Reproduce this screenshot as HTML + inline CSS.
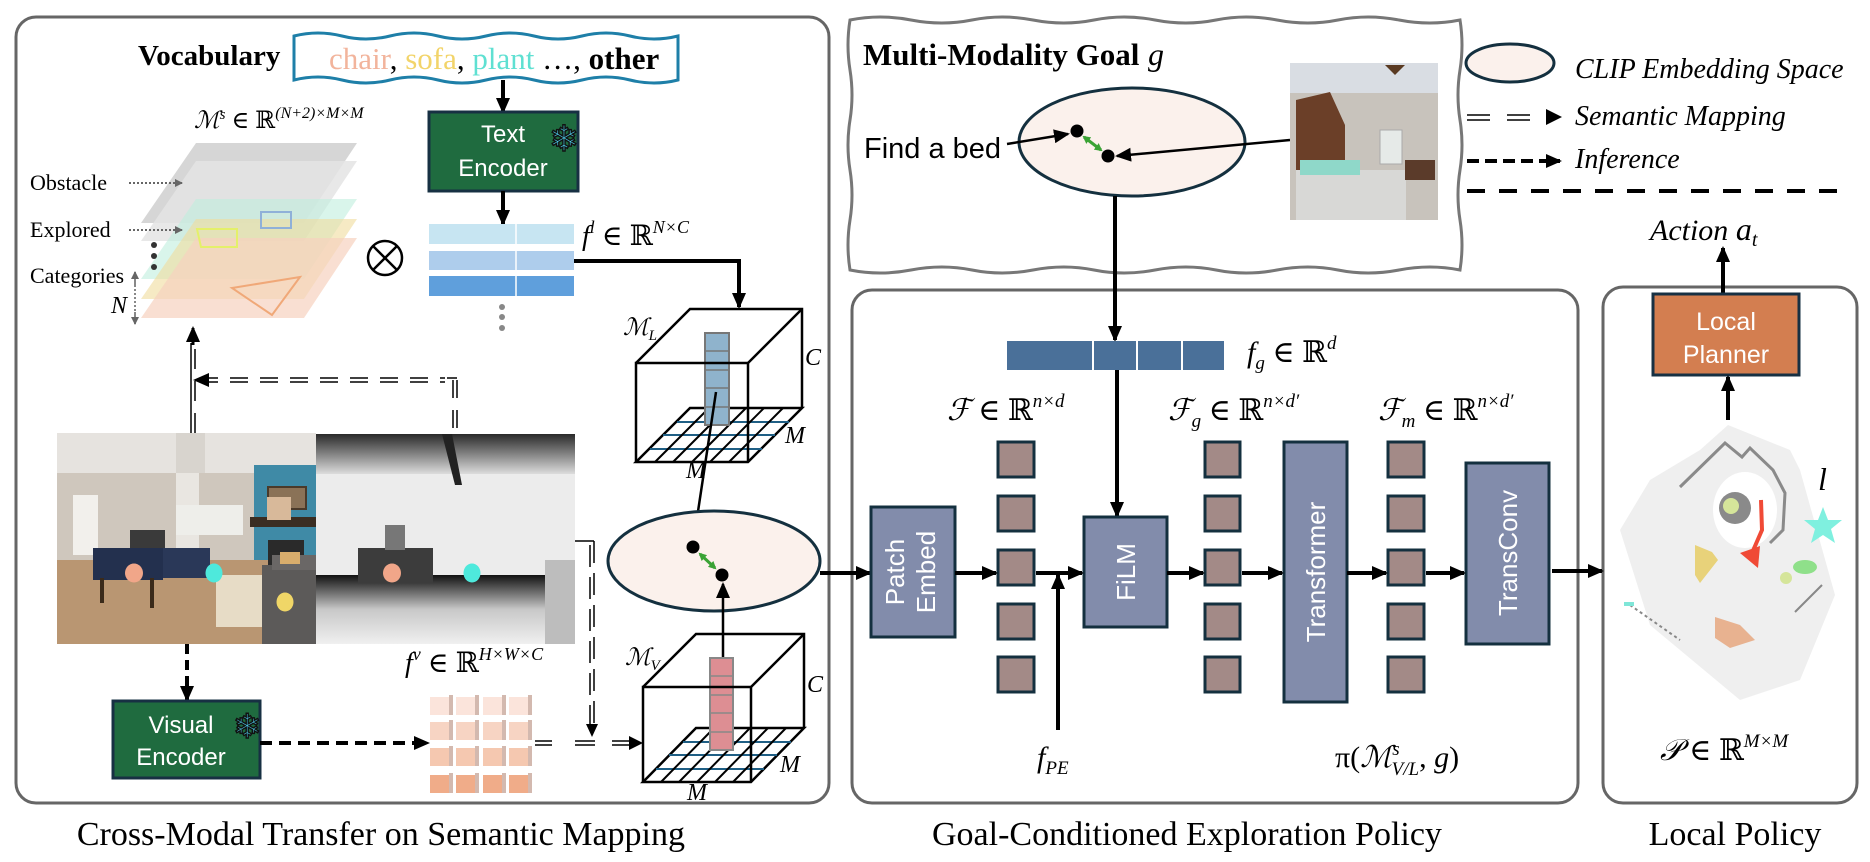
<!DOCTYPE html>
<html><head><meta charset="utf-8"><style>
html,body{margin:0;padding:0;background:#fff;}
svg{display:block;}
.serif{font-family:"Liberation Serif",serif;}
.sans{font-family:"Liberation Sans","DejaVu Sans",sans-serif;}
.it{font-family:"Liberation Serif","DejaVu Serif",serif;font-style:italic;}
</style></head><body>
<svg width="1870" height="862" viewBox="0 0 1870 862" xmlns="http://www.w3.org/2000/svg">
<defs>
<marker id="ah" markerWidth="10" markerHeight="10" refX="8" refY="5" orient="auto" markerUnits="userSpaceOnUse"><path d="M0,0 L10,5 L0,10 z" fill="#000"/></marker>
<marker id="ahb" markerWidth="16" markerHeight="14" refX="14" refY="7" orient="auto" markerUnits="userSpaceOnUse"><path d="M0,0 L16,7 L0,14 z" fill="#000"/></marker>
<marker id="ahg" markerWidth="8" markerHeight="8" refX="6" refY="4" orient="auto-start-reverse" markerUnits="userSpaceOnUse"><path d="M0,0 L8,4 L0,8 z" fill="#3aa335"/></marker>
<marker id="ahs" markerWidth="8" markerHeight="8" refX="7" refY="4" orient="auto" markerUnits="userSpaceOnUse"><path d="M0,0 L8,4 L0,8 z" fill="#666"/></marker>
</defs>

<rect x="16" y="17" width="813" height="786" rx="20" fill="none" stroke="#666" stroke-width="3"/>
<rect x="852" y="290" width="726" height="513" rx="20" fill="none" stroke="#666" stroke-width="3"/>
<rect x="1603" y="287" width="254" height="516" rx="20" fill="none" stroke="#666" stroke-width="3"/>

<path d="M850,20 q30,-6 61,0 t61,0 t61,0 t61,0 t61,0 t61,0 t61,0 t61,0 t61,0 t61,0 q4,25 0,50 t0,50 t0,50 t0,50 t0,50 q-30,-6 -61,0 t-61,0 t-61,0 t-61,0 t-61,0 t-61,0 t-61,0 t-61,0 t-61,0 t-61,0 q-4,-25 0,-50 t0,-50 t0,-50 t0,-50 t0,-50 z" fill="#fff" stroke="#777" stroke-width="3"/>

<text x="685" y="845" text-anchor="end" class="serif" font-size="34">Cross-Modal Transfer on Semantic Mapping</text>
<text x="932" y="845" class="serif" font-size="34">Goal-Conditioned Exploration Policy</text>
<text x="1735" y="845" text-anchor="middle" class="serif" font-size="34">Local Policy</text>

<text x="138" y="65" class="serif" font-weight="bold" font-size="29">Vocabulary</text>
<path d="M294,36 q24,-6 48,0 t48,0 t48,0 t48,0 t48,0 t48,0 t48,0 t48,0 L678,80 q-24,6 -48,0 t-48,0 t-48,0 t-48,0 t-48,0 t-48,0 t-48,0 t-48,0 z" fill="#fff" stroke="#1e7fa8" stroke-width="3"/>
<text x="329" y="69" class="serif" font-size="31"><tspan fill="#f2b49c">chair</tspan>, <tspan fill="#f2d46a">sofa</tspan>, <tspan fill="#5fe0d2">plant</tspan> …, <tspan font-weight="bold">other</tspan></text>
<line x1="503" y1="80" x2="503" y2="112" stroke="#000" stroke-width="4" marker-end="url(#ahb)"/>

<rect x="429" y="112" width="149" height="79" fill="#1f6b3f" stroke="#173043" stroke-width="3"/>
<text x="503" y="142" text-anchor="middle" class="sans" font-size="24" fill="#fff">Text</text>
<text x="503" y="176" text-anchor="middle" class="sans" font-size="24" fill="#fff">Encoder</text>
<text x="564" y="151" text-anchor="middle" font-family="DejaVu Sans,sans-serif" font-size="36" fill="#4fd0f0" stroke="#111" stroke-width="1.5">❄</text>
<line x1="503" y1="191" x2="503" y2="224" stroke="#000" stroke-width="4" marker-end="url(#ahb)"/>

<rect x="429" y="224" width="145" height="20" fill="#c7e5f2"/>
<rect x="429" y="251" width="145" height="19" fill="#aecdec"/>
<rect x="429" y="276" width="145" height="20" fill="#5f9fdc"/>
<line x1="516" y1="222" x2="516" y2="298" stroke="#fff" stroke-width="1.5"/>
<circle cx="502" cy="307" r="3" fill="#888"/><circle cx="502" cy="317" r="3" fill="#888"/><circle cx="502" cy="328" r="3" fill="#888"/>
<text x="582" y="245" class="it" font-size="28">f<tspan font-size="18" dy="-12">l</tspan><tspan dy="12" font-style="normal"> ∈ ℝ</tspan><tspan font-size="18" dy="-12">N×C</tspan></text>
<polyline points="574,261 739,261 739,307" fill="none" stroke="#000" stroke-width="4" marker-end="url(#ahb)"/>

<g>
<polygon points="196,143 357,143 304,223 141,223" fill="#d4d4d4" opacity="0.95"/>
<polygon points="196,161 357,161 304,241 141,241" fill="#e4e4e4" opacity="0.85"/>
<polygon points="196,199 357,199 304,279 141,279" fill="#bfeedd" opacity="0.6"/>
<polygon points="196,219 357,219 304,299 141,299" fill="#f0dc9c" opacity="0.6"/>
<polygon points="196,238 357,238 304,318 141,318" fill="#f6d2bf" opacity="0.7"/>
<path d="M261,212 h30 v16 h-30 z" fill="none" stroke="#8fb0d8" stroke-width="2"/>
<path d="M197,229 h40 v18 h-36 z" fill="none" stroke="#e4f06a" stroke-width="2"/>
<polygon points="232,288 300,277 272,315" fill="none" stroke="#f0a878" stroke-width="2"/>
</g>
<text x="194" y="128" class="it" font-size="24">ℳ<tspan font-size="15" dy="-9">s</tspan><tspan dy="9" font-style="normal"> ∈ ℝ</tspan><tspan font-size="16" dy="-10">(N+2)×M×M</tspan></text>
<text x="30" y="190" class="serif" font-size="22">Obstacle</text>
<text x="30" y="237" class="serif" font-size="22">Explored</text>
<text x="30" y="283" class="serif" font-size="22">Categories</text>
<text x="111" y="313" class="it" font-size="24">N</text>
<line x1="129" y1="183" x2="182" y2="183" stroke="#666" stroke-width="2" stroke-dasharray="2,2" marker-end="url(#ahs)"/>
<line x1="129" y1="230" x2="182" y2="230" stroke="#666" stroke-width="2" stroke-dasharray="2,2" marker-end="url(#ahs)"/>
<line x1="135" y1="285" x2="135" y2="272" stroke="#888" stroke-width="2" marker-end="url(#ahs)"/>
<line x1="135" y1="285" x2="135" y2="312" stroke="#888" stroke-width="2" stroke-dasharray="2,2"/>
<line x1="135" y1="312" x2="135" y2="324" stroke="#888" stroke-width="2" marker-end="url(#ahs)"/>
<circle cx="154" cy="245" r="3" fill="#333"/><circle cx="154" cy="256" r="3" fill="#333"/><circle cx="154" cy="267" r="3" fill="#333"/>
<circle cx="385" cy="258" r="17" fill="none" stroke="#000" stroke-width="2.5"/>
<line x1="373" y1="246" x2="397" y2="270" stroke="#000" stroke-width="2.5"/><line x1="397" y1="246" x2="373" y2="270" stroke="#000" stroke-width="2.5"/>

<g stroke="#000" stroke-width="1.5" fill="none">
<line x1="191" y1="433" x2="191" y2="343"/><line x1="195" y1="433" x2="195" y2="343" stroke-dasharray="20,12"/>
<line x1="200" y1="378" x2="445" y2="378" stroke-dasharray="18,12"/><line x1="200" y1="382" x2="445" y2="382" stroke-dasharray="18,12"/>
<line x1="453" y1="380" x2="453" y2="433" stroke-dasharray="18,12"/><line x1="457" y1="380" x2="457" y2="433" stroke-dasharray="18,12"/>
<line x1="447" y1="378" x2="457" y2="378"/>
</g>
<path d="M193,380 l16,-7 v14 z" fill="#000"/>
<line x1="193" y1="345" x2="193" y2="328" stroke="#000" stroke-width="3" marker-end="url(#ahb)"/>

<g>
<rect x="57" y="433" width="259" height="211" fill="#cfc7bd"/>
<rect x="57" y="433" width="259" height="40" fill="#e6e3df"/>
<rect x="57" y="560" width="259" height="84" fill="#b99672"/>
<rect x="73" y="495" width="25" height="60" fill="#f2f0ec"/>
<rect x="176" y="455" width="23" height="110" fill="#e9e6e1"/>
<rect x="176" y="433" width="29" height="40" fill="#d8d4ce"/>
<rect x="176" y="505" width="67" height="30" fill="#eeeeea"/>
<rect x="254" y="465" width="62" height="95" fill="#3f8aa6"/>
<rect x="268" y="487" width="38" height="22" fill="#8a7257" stroke="#4a3a2a" stroke-width="2"/>
<rect x="250" y="517" width="66" height="10" fill="#3a2d22"/>
<rect x="268" y="540" width="36" height="25" fill="#2a2a2a"/>
<rect x="267" y="497" width="24" height="23" fill="#d8b99a"/>
<rect x="262" y="565" width="54" height="79" fill="#5c5a59"/>
<rect x="272" y="555" width="44" height="15" fill="#6a6766"/>
<rect x="280" y="552" width="20" height="12" fill="#d9ad6c"/>
<rect x="216" y="575" width="46" height="52" fill="#e7dcc6"/>
<rect x="150" y="548" width="60" height="30" fill="#2a3858"/>
<rect x="93" y="548" width="70" height="32" fill="#23304e"/>
<rect x="130" y="530" width="35" height="18" fill="#3a3a3a"/>
<rect x="100" y="578" width="4" height="25" fill="#3a2a1a"/><rect x="150" y="578" width="4" height="30" fill="#3a2a1a"/>
<ellipse cx="134" cy="573" rx="9" ry="9.5" fill="#f1a689"/>
<ellipse cx="214" cy="573" rx="8.5" ry="9.5" fill="#4ee9dc"/>
<ellipse cx="285" cy="602" rx="8.5" ry="9.5" fill="#f0d667"/>
</g>
<defs>
<linearGradient id="dtop" x1="0" y1="0" x2="0" y2="1"><stop offset="0" stop-color="#2a2a2a"/><stop offset="1" stop-color="#dcdcdc"/></linearGradient>
<linearGradient id="dbot" x1="0" y1="0" x2="0" y2="1"><stop offset="0" stop-color="#111"/><stop offset="0.5" stop-color="#c8c8c8"/><stop offset="1" stop-color="#f0f0f0"/></linearGradient>
</defs>
<g>
<rect x="316" y="434" width="259" height="210" fill="#ececec"/>
<rect x="316" y="434" width="259" height="40" fill="url(#dtop)"/>
<rect x="316" y="575" width="259" height="69" fill="url(#dbot)"/>
<polygon points="442,434 452,434 462,485 455,485" fill="#222"/>
<rect x="358" y="548" width="75" height="35" fill="#3c3c3c"/>
<rect x="385" y="525" width="20" height="25" fill="#777"/>
<rect x="545" y="560" width="30" height="84" fill="#bdbdbd"/>
<ellipse cx="392" cy="573" rx="9" ry="9.5" fill="#f1a689"/>
<ellipse cx="472" cy="573" rx="8.5" ry="9.5" fill="#4ee9dc"/>
</g>

<g stroke="#000" stroke-width="1.5" fill="none">
<line x1="575" y1="541" x2="594" y2="541"/>
<line x1="590" y1="545" x2="590" y2="725" stroke-dasharray="22,10"/><line x1="594" y1="541" x2="594" y2="725" stroke-dasharray="22,10"/>
<line x1="535" y1="741" x2="552" y2="741"/><line x1="535" y1="745" x2="552" y2="745"/>
<line x1="575" y1="741" x2="595" y2="741"/><line x1="575" y1="745" x2="595" y2="745"/>
<line x1="612" y1="741" x2="630" y2="741"/><line x1="612" y1="745" x2="630" y2="745"/>
</g>
<path d="M586,724 h12 l-6,13 z" fill="#000"/>
<path d="M629,736 l14,7 l-14,7 z" fill="#000"/>

<line x1="187" y1="644" x2="187" y2="700" stroke="#000" stroke-width="4" stroke-dasharray="10,6" marker-end="url(#ahb)"/>
<rect x="113" y="701" width="147" height="77" fill="#1f6b3f" stroke="#173043" stroke-width="3"/>
<text x="181" y="733" text-anchor="middle" class="sans" font-size="24" fill="#fff">Visual</text>
<text x="181" y="765" text-anchor="middle" class="sans" font-size="24" fill="#fff">Encoder</text>
<text x="247" y="738" text-anchor="middle" font-family="DejaVu Sans,sans-serif" font-size="34" fill="#4fd0f0" stroke="#111" stroke-width="1.5">❄</text>
<line x1="260" y1="743" x2="428" y2="743" stroke="#000" stroke-width="4" stroke-dasharray="12,7" marker-end="url(#ahb)"/>

<text x="405" y="672" class="it" font-size="28">f<tspan font-size="18" dy="-12">v</tspan><tspan dy="12" font-style="normal"> ∈ ℝ</tspan><tspan font-size="18" dy="-12">H×W×C</tspan></text>
<g>
<g fill="#fbe4db"><rect x="430" y="697" width="19" height="18"/><rect x="456" y="697" width="19" height="18"/><rect x="483" y="697" width="19" height="18"/><rect x="509" y="697" width="19" height="18"/></g>
<g fill="#f7d4c3"><rect x="430" y="722" width="19" height="18"/><rect x="456" y="722" width="19" height="18"/><rect x="483" y="722" width="19" height="18"/><rect x="509" y="722" width="19" height="18"/></g>
<g fill="#f5c8b0"><rect x="430" y="748" width="19" height="18"/><rect x="456" y="748" width="19" height="18"/><rect x="483" y="748" width="19" height="18"/><rect x="509" y="748" width="19" height="18"/></g>
<g fill="#f0ac89"><rect x="430" y="775" width="19" height="18"/><rect x="456" y="775" width="19" height="18"/><rect x="483" y="775" width="19" height="18"/><rect x="509" y="775" width="19" height="18"/></g>
<g fill="#c9a89c" opacity="0.8"><rect x="449" y="695" width="4" height="20"/><rect x="475" y="695" width="4" height="20"/><rect x="502" y="695" width="4" height="20"/><rect x="528" y="695" width="4" height="20"/>
<rect x="449" y="720" width="4" height="20"/><rect x="475" y="720" width="4" height="20"/><rect x="502" y="720" width="4" height="20"/><rect x="528" y="720" width="4" height="20"/>
<rect x="449" y="746" width="4" height="20"/><rect x="475" y="746" width="4" height="20"/><rect x="502" y="746" width="4" height="20"/><rect x="528" y="746" width="4" height="20"/>
<rect x="449" y="773" width="4" height="20"/><rect x="475" y="773" width="4" height="20"/><rect x="502" y="773" width="4" height="20"/><rect x="528" y="773" width="4" height="20"/></g>
</g>

<g stroke="#000" stroke-width="2.5" fill="none">
<polygon points="636,462 748,462 802,408 690,408"/>
<g stroke="#1f5f85" stroke-width="2"><line x1="650" y1="449" x2="762" y2="449"/><line x1="663" y1="435" x2="775" y2="435"/><line x1="677" y1="422" x2="789" y2="422"/></g>
<g stroke-width="2"><line x1="655" y1="462" x2="709" y2="408"/><line x1="673" y1="462" x2="727" y2="408"/><line x1="692" y1="462" x2="746" y2="408"/><line x1="710" y1="462" x2="764" y2="408"/><line x1="729" y1="462" x2="783" y2="408"/></g>
<rect x="705" y="333" width="24" height="92" fill="#8fb3cc" stroke="#777" stroke-width="2"/>
<g stroke="#777" stroke-width="1.5"><line x1="705" y1="351" x2="729" y2="351"/><line x1="705" y1="370" x2="729" y2="370"/><line x1="705" y1="388" x2="729" y2="388"/><line x1="705" y1="407" x2="729" y2="407"/></g>
<polyline points="636,462 636,363 748,363 748,462"/>
<polyline points="636,363 690,309 802,309 802,408"/>
<line x1="748" y1="363" x2="802" y2="309"/>
</g>
<text x="623" y="335" class="it" font-size="24">ℳ<tspan font-size="15" dy="5">L</tspan></text>
<text x="805" y="365" class="it" font-size="24">C</text>
<text x="785" y="443" class="it" font-size="24">M</text>
<text x="686" y="478" class="it" font-size="24">M</text>
<line x1="716" y1="392" x2="694" y2="538" stroke="#000" stroke-width="2.5" marker-end="url(#ahb)"/>

<ellipse cx="714" cy="561" rx="106" ry="50" fill="#fbf1ec" stroke="#14303f" stroke-width="3"/>
<circle cx="693" cy="547" r="6.5" fill="#000"/><circle cx="722" cy="575" r="6.5" fill="#000"/>
<line x1="700" y1="554" x2="715" y2="568" stroke="#3aa335" stroke-width="3" marker-start="url(#ahg)" marker-end="url(#ahg)"/>
<line x1="723" y1="658" x2="723" y2="584" stroke="#000" stroke-width="2.5" marker-end="url(#ahb)"/>

<g stroke="#000" stroke-width="2.5" fill="none">
<polygon points="643,782 751,782 804,728 696,728"/>
<g stroke="#1f5f85" stroke-width="2"><line x1="656" y1="769" x2="764" y2="769"/><line x1="669" y1="755" x2="777" y2="755"/><line x1="683" y1="742" x2="791" y2="742"/></g>
<g stroke-width="2"><line x1="661" y1="782" x2="714" y2="728"/><line x1="679" y1="782" x2="732" y2="728"/><line x1="697" y1="782" x2="750" y2="728"/><line x1="715" y1="782" x2="768" y2="728"/><line x1="733" y1="782" x2="786" y2="728"/></g>
<rect x="710" y="658" width="23" height="92" fill="#dd8e93" stroke="#888" stroke-width="2"/>
<g stroke="#888" stroke-width="1.5"><line x1="710" y1="676" x2="733" y2="676"/><line x1="710" y1="695" x2="733" y2="695"/><line x1="710" y1="713" x2="733" y2="713"/><line x1="710" y1="732" x2="733" y2="732"/></g>
<polyline points="643,782 643,687 751,687 751,782"/>
<polyline points="643,687 696,634 804,634 804,728"/>
<line x1="751" y1="687" x2="804" y2="634"/>
</g>
<text x="625" y="665" class="it" font-size="24">ℳ<tspan font-size="15" dy="5">V</tspan></text>
<text x="807" y="692" class="it" font-size="24">C</text>
<text x="780" y="772" class="it" font-size="24">M</text>
<text x="687" y="800" class="it" font-size="24">M</text>

<line x1="820" y1="573" x2="870" y2="573" stroke="#000" stroke-width="4" marker-end="url(#ahb)"/>

<text x="863" y="65" class="serif" font-weight="bold" font-size="31">Multi-Modality Goal</text>
<text x="1148" y="65" class="it" font-size="32">g</text>
<ellipse cx="1132" cy="142" rx="113" ry="54" fill="#fbf1ec" stroke="#14303f" stroke-width="3"/>
<text x="864" y="158" class="sans" font-size="29">Find a bed</text>
<line x1="1007" y1="144" x2="1068" y2="134" stroke="#000" stroke-width="2.5" marker-end="url(#ahb)"/>
<circle cx="1077" cy="131" r="6.5" fill="#000"/><circle cx="1108" cy="156" r="6.5" fill="#000"/>
<line x1="1084" y1="137" x2="1101" y2="150" stroke="#3aa335" stroke-width="3" marker-start="url(#ahg)" marker-end="url(#ahg)"/>
<line x1="1290" y1="140" x2="1117" y2="156" stroke="#000" stroke-width="2.5" marker-end="url(#ahb)"/>
<g>
<rect x="1290" y="63" width="148" height="157" fill="#c8c3bc"/>
<rect x="1290" y="63" width="148" height="30" fill="#d9dde3"/>
<rect x="1380" y="130" width="22" height="34" fill="#e6eae8" stroke="#aaa"/>
<polygon points="1296,100 1330,92 1345,125 1345,175 1296,175" fill="#6b3f28"/>
<rect x="1296" y="170" width="110" height="50" fill="#d8d8d6"/>
<rect x="1300" y="160" width="60" height="15" fill="#8fd8c9"/>
<rect x="1405" y="160" width="30" height="20" fill="#5b3b2a"/>
<path d="M1385,65 l10,10 l10,-10" fill="#5a3a22"/>
</g>
<line x1="1115" y1="196" x2="1115" y2="340" stroke="#000" stroke-width="4" marker-end="url(#ahb)"/>

<ellipse cx="1510" cy="63" rx="44" ry="19" fill="#fbf1ec" stroke="#14303f" stroke-width="3"/>
<text x="1575" y="78" class="it" font-size="28">CLIP Embedding Space</text>
<g stroke="#000" stroke-width="1.5"><line x1="1467" y1="115" x2="1490" y2="115"/><line x1="1467" y1="120" x2="1490" y2="120"/><line x1="1507" y1="115" x2="1530" y2="115"/><line x1="1507" y1="120" x2="1530" y2="120"/></g>
<path d="M1546,109 l16,8 l-16,8 z" fill="#000"/>
<text x="1575" y="125" class="it" font-size="28">Semantic Mapping</text>
<line x1="1467" y1="161" x2="1560" y2="161" stroke="#000" stroke-width="4" stroke-dasharray="12,6" marker-end="url(#ahb)"/>
<text x="1575" y="168" class="it" font-size="28">Inference</text>
<line x1="1467" y1="191" x2="1850" y2="191" stroke="#000" stroke-width="4" stroke-dasharray="18,14"/>

<text x="1650" y="240" class="it" font-size="30">Action <tspan font-size="32">a</tspan><tspan font-size="20" dy="6">t</tspan></text>
<line x1="1723" y1="294" x2="1723" y2="248" stroke="#000" stroke-width="4" marker-end="url(#ahb)"/>
<rect x="1653" y="294" width="146" height="81" fill="#d37e50" stroke="#173043" stroke-width="3"/>
<text x="1726" y="330" text-anchor="middle" class="sans" font-size="25" fill="#fff">Local</text>
<text x="1726" y="363" text-anchor="middle" class="sans" font-size="25" fill="#fff">Planner</text>
<line x1="1728" y1="420" x2="1728" y2="377" stroke="#000" stroke-width="4" marker-end="url(#ahb)"/>

<g>
<polygon points="1728,425 1790,450 1800,470 1835,595 1800,680 1740,700 1650,625 1620,530 1650,480 1700,450" fill="#efefef"/>
<ellipse cx="1745" cy="510" rx="32" ry="38" fill="#fff"/>
<polyline points="1680,487 1725,443 1742,457 1750,448 1773,470 1785,493 1783,530 1770,543" fill="none" stroke="#8a8a8a" stroke-width="3"/>
<ellipse cx="1735" cy="508" rx="16" ry="16" fill="#8a8a8a"/>
<ellipse cx="1731" cy="506" rx="8" ry="8" fill="#d5e59a"/>
<path d="M1761,500 L1762,530 L1752,553" fill="none" stroke="#f04a36" stroke-width="4"/>
<polygon points="1740,553 1760,546 1758,568" fill="#f04a36"/>
<polygon points="1695,545 1712,552 1718,560 1700,583 1695,575" fill="#e8d27a"/>
<polygon points="1715,617 1740,625 1755,640 1730,648 1715,638" fill="#e8b290"/>
<ellipse cx="1805" cy="567" rx="12" ry="7" fill="#8fe08a"/>
<ellipse cx="1786" cy="578" rx="6" ry="6" fill="#d5e59a"/>
<line x1="1795" y1="612" x2="1822" y2="585" stroke="#888" stroke-width="2"/>
<line x1="1630" y1="605" x2="1680" y2="640" stroke="#888" stroke-width="2" stroke-dasharray="3,3"/>
<rect x="1624" y="602" width="10" height="4" fill="#7fe6d8"/>
</g>
<text x="1818" y="490" class="it" font-size="32">l</text>
<polygon points="1823,507 1828,520 1842,520 1831,529 1835,543 1823,535 1811,543 1815,529 1804,520 1818,520" fill="#7ff0df"/>
<text x="1660" y="760" class="it" font-size="30">𝒫<tspan font-style="normal"> ∈ ℝ</tspan><tspan font-size="19" dy="-13">M×M</tspan></text>

<rect x="1007" y="341" width="217" height="29" fill="#4a7099"/>
<g stroke="#fff" stroke-width="2"><line x1="1093" y1="341" x2="1093" y2="370"/><line x1="1137" y1="341" x2="1137" y2="370"/><line x1="1182" y1="341" x2="1182" y2="370"/></g>
<text x="1247" y="362" class="it" font-size="30">f<tspan font-size="19" dy="7">g</tspan><tspan dy="-7" font-style="normal"> ∈ ℝ</tspan><tspan font-size="19" dy="-13">d</tspan></text>
<line x1="1117" y1="370" x2="1117" y2="516" stroke="#000" stroke-width="4" marker-end="url(#ahb)"/>

<text x="947" y="420" class="it" font-size="30">ℱ<tspan font-style="normal"> ∈ ℝ</tspan><tspan font-size="19" dy="-13">n×d</tspan></text>
<text x="1168" y="420" class="it" font-size="30">ℱ<tspan font-size="19" dy="7">g</tspan><tspan dy="-7" font-style="normal"> ∈ ℝ</tspan><tspan font-size="19" dy="-13">n×d′</tspan></text>
<text x="1378" y="420" class="it" font-size="30">ℱ<tspan font-size="19" dy="7">m</tspan><tspan dy="-7" font-style="normal"> ∈ ℝ</tspan><tspan font-size="19" dy="-13">n×d′</tspan></text>

<g fill="#a38a87" stroke="#14303f" stroke-width="3">
<rect x="998" y="442" width="36" height="35"/><rect x="998" y="496" width="36" height="35"/><rect x="998" y="550" width="36" height="35"/><rect x="998" y="604" width="36" height="35"/><rect x="998" y="657" width="36" height="35"/>
<rect x="1205" y="442" width="35" height="35"/><rect x="1205" y="496" width="35" height="35"/><rect x="1205" y="550" width="35" height="35"/><rect x="1205" y="604" width="35" height="35"/><rect x="1205" y="657" width="35" height="35"/>
<rect x="1388" y="442" width="36" height="35"/><rect x="1388" y="496" width="36" height="35"/><rect x="1388" y="550" width="36" height="35"/><rect x="1388" y="604" width="36" height="35"/><rect x="1388" y="657" width="36" height="35"/>
</g>
<g fill="#828cab" stroke="#14303f" stroke-width="3">
<rect x="871" y="507" width="84" height="130"/>
<rect x="1084" y="517" width="83" height="110"/>
<rect x="1284" y="442" width="63" height="260"/>
<rect x="1466" y="463" width="83" height="181"/>
</g>
<g class="sans" font-size="26" fill="#fff" text-anchor="middle">
<text transform="translate(904,572) rotate(-90)">Patch</text>
<text transform="translate(935,572) rotate(-90)">Embed</text>
<text transform="translate(1135,572) rotate(-90)">FiLM</text>
<text transform="translate(1325,572) rotate(-90)">Transformer</text>
<text transform="translate(1517,553) rotate(-90)">TransConv</text>
</g>
<g stroke="#000" stroke-width="4">
<line x1="955" y1="573" x2="996" y2="573" marker-end="url(#ahb)"/>
<line x1="1036" y1="573" x2="1082" y2="573" marker-end="url(#ahb)"/>
<line x1="1167" y1="573" x2="1203" y2="573" marker-end="url(#ahb)"/>
<line x1="1242" y1="573" x2="1282" y2="573" marker-end="url(#ahb)"/>
<line x1="1347" y1="573" x2="1386" y2="573" marker-end="url(#ahb)"/>
<line x1="1426" y1="573" x2="1464" y2="573" marker-end="url(#ahb)"/>
<line x1="1552" y1="571" x2="1602" y2="571" marker-end="url(#ahb)"/>
<line x1="1058" y1="730" x2="1058" y2="575" marker-end="url(#ahb)"/>
</g>
<text x="1037" y="767" class="it" font-size="30">f<tspan font-size="19" dy="7">PE</tspan></text>
<text x="1335" y="767" class="it" font-size="30"><tspan font-style="normal">π(</tspan>ℳ<tspan font-size="19" dy="-12">s</tspan><tspan font-size="19" dx="-8" dy="20">V/L</tspan><tspan dy="-8" font-style="normal">, </tspan>g<tspan font-style="normal">)</tspan></text>
</svg>
</body></html>
